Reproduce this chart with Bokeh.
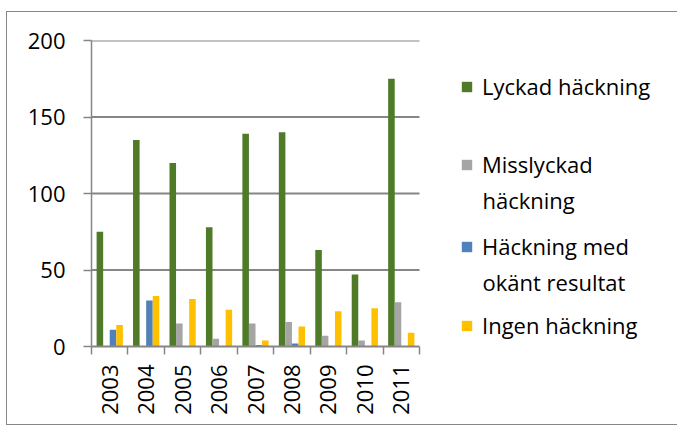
import numpy as np
from bokeh.plotting import figure
from bokeh.models import (ColumnDataSource, FixedTicker, Legend, LegendItem,
                          Range1d, Label)
from bokeh.embed import file_html
from bokeh.resources import INLINE

years = ["2003", "2004", "2005", "2006", "2007", "2008", "2009", "2010", "2011"]
lyckad = [75, 135, 120, 78, 139, 140, 63, 47, 175]
misslyckad = [0, 0, 15, 5, 15, 16, 7, 4, 29]
okant = [11, 30, 0, 0, 1, 2, 0, 0, 0]
ingen = [14, 33, 31, 24, 4, 13, 23, 25, 9]
y_ticks = [0, 50, 100, 150, 200]

# legend text: first line goes with the legend glyph, second line (if any) below
legend_first = ["Lyckad häckning", "Misslyckad", "Häckning med", "Ingen häckning"]
legend_second = [None, "häckning", "okänt resultat", None]
series_values = [lyckad, misslyckad, okant, ingen]
colors = ["#4F7A28", "#A5A5A5", "#4F81BD", "#FFC000"]
offsets = [-0.27, -0.09, 0.09, 0.27]
bar_width = 0.18

FONT = "Open Sans"
FS = "22px"
GRID = "#868686"

n = len(years)
W, H = 671, 414
ML, MT, MB = 84, 28, 80
PX_PER_UNIT = 328.0 / n
x_end = (W - ML) / PX_PER_UNIT

p = figure(width=W, height=H, output_backend="svg", toolbar_location=None,
           x_range=Range1d(0, x_end), y_range=Range1d(0, 200),
           min_border_left=ML, min_border_top=MT, min_border_bottom=MB,
           min_border_right=0)
p.outline_line_color = None
p.margin = (11, 0, 0, 6)
p.styles = {"border-left": "1.5px solid #868686",
            "border-top": "1.5px solid #868686",
            "border-bottom": "1.5px solid #868686"}

# horizontal gridlines limited to the category area
gl = ColumnDataSource(dict(y=y_ticks[1:]))
p.segment(x0=0, x1=n, y0="y", y1="y", source=gl, line_color=GRID, line_width=2)

centers = np.arange(n) + 0.5
renderers = []
for vals, col, off in zip(series_values, colors, offsets):
    src = ColumnDataSource(dict(x=centers + off, top=vals))
    r = p.vbar(x="x", top="top", width=bar_width, bottom=0, source=src,
               fill_color=col, line_color=None)
    renderers.append(r)

# y axis
p.yaxis.ticker = FixedTicker(ticks=y_ticks)
p.yaxis.axis_line_color = GRID
p.yaxis.axis_line_width = 1.5
p.yaxis.major_tick_line_color = GRID
p.yaxis.major_tick_line_width = 1.5
p.yaxis.major_tick_out = 8
p.yaxis.major_tick_in = 0
p.yaxis.minor_tick_line_color = None
p.yaxis.major_label_text_font = FONT
p.yaxis.major_label_text_font_size = FS
p.yaxis.major_label_text_color = "black"
p.yaxis.major_label_standoff = 18

# x axis
p.xaxis.bounds = (0, n)
p.xaxis.ticker = FixedTicker(ticks=list(centers), minor_ticks=list(range(n + 1)))
p.xaxis.major_label_overrides = {float(c): y for c, y in zip(centers, years)}
p.xaxis.major_label_orientation = np.pi / 2
p.xaxis.axis_line_color = GRID
p.xaxis.axis_line_width = 2
p.xaxis.major_tick_line_color = None
p.xaxis.minor_tick_line_color = GRID
p.xaxis.minor_tick_line_width = 1.5
p.xaxis.minor_tick_out = 8
p.xaxis.minor_tick_in = 0
p.xaxis.major_label_text_font = FONT
p.xaxis.major_label_text_font_size = FS
p.xaxis.major_label_text_color = "black"
p.xaxis.major_label_standoff = 10

p.xgrid.grid_line_color = None
p.ygrid.grid_line_color = None

# legends (one per item to control spacing); positions in px from frame bottom-left
leg_x = 369
leg_centers = [259.5, 181.5, 99.5, 20.5]   # px above frame bottom (first line)
line_pitch = 35
for first, second, r, c in zip(legend_first, legend_second, renderers, leg_centers):
    lg = Legend(items=[LegendItem(label=first, renderers=[r])],
                location=(leg_x, c - 14.5), border_line_color=None,
                background_fill_alpha=0, padding=0, margin=0, spacing=0,
                glyph_width=13, glyph_height=13, label_standoff=9,
                label_text_font=FONT, label_text_font_size=FS,
                label_text_color="black")
    p.add_layout(lg)
    if second:
        p.add_layout(Label(x=(leg_x + 22) / PX_PER_UNIT,
                           y=(c - line_pitch) * 200 / (H - MT - MB),
                           text=second, text_font=FONT, text_font_size=FS,
                           text_color="black", text_baseline="middle"))

open("out.html", "w").write(file_html(p, INLINE))
